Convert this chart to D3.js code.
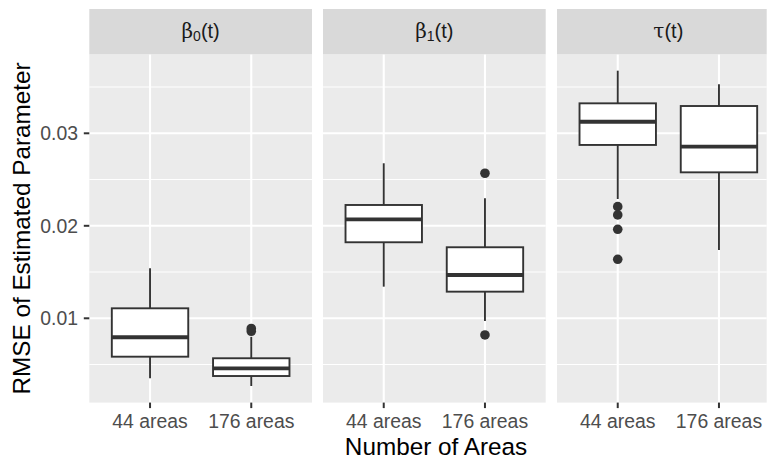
<!DOCTYPE html>
<html>
<head>
<meta charset="utf-8">
<script src="https://cdn.jsdelivr.net/npm/d3@7"></script>
<style>
  html, body { margin: 0; padding: 0; background: #ffffff; }
  svg { display: block; }
  text { font-family: "Liberation Sans", Arial, sans-serif; }
</style>
</head>
<body>
<svg id="chart" width="771" height="462"></svg>
<script>
// ---------- data ----------
const panelBase = ["β", "β", "τ"];
const panelSub = ["0", "1", ""];
const groups = ["44 areas", "176 areas"];

// per panel: [44 areas, 176 areas]
const lowerWhisker = [[0.00351, 0.00268], [0.01342, 0.0097], [0.0229, 0.01738]];
const q1 = [[0.00585, 0.00376], [0.01822, 0.01288], [0.02874, 0.02578]];
const median = [[0.00795, 0.00459], [0.0207, 0.01468], [0.03125, 0.02855]];
const q3 = [[0.01108, 0.00568], [0.02225, 0.01768], [0.03324, 0.03295]];
const upperWhisker = [[0.01541, 0.0080], [0.02676, 0.02297], [0.03677, 0.0353]];
const outliers = [
  [[], [0.0089, 0.0086]],
  [[], [0.02568, 0.0082]],
  [[0.02207, 0.02117, 0.01962, 0.01638], []]
];

const yTicks = [0.01, 0.02, 0.03];
const yMinor = [0.005, 0.015, 0.025, 0.035];
const yTickLabels = ["0.01", "0.02", "0.03"];

// ---------- layout ----------
const svg = d3.select("#chart");
const panelTop = 54.3, panelBottom = 402.6;
const stripTop = 9;
const panelLefts = [89.3, 323, 557];
const panelW = 222.7;
const clipRight = 766.7;

const y = d3.scaleLinear()
  .domain([0.01 - (panelBottom - 318.3) / 9250, 0.01 + (318.3 - panelTop) / 9250])
  .range([panelBottom, panelTop]);

const dark = "#333333";

panelLefts.forEach((left, p) => {
  const right = Math.min(left + panelW, clipRight);
  const x = d3.scalePoint().domain(groups).range([left, left + panelW]).padding(0.6);
  const step = x.step();
  const g = svg.append("g");

  // panel background
  g.append("rect").attr("x", left).attr("y", panelTop)
    .attr("width", right - left).attr("height", panelBottom - panelTop)
    .attr("fill", "#EBEBEB");

  // minor gridlines
  g.selectAll(".minor").data(yMinor.filter(v => y(v) > panelTop && y(v) < panelBottom)).enter()
    .append("line")
    .attr("x1", left).attr("x2", right)
    .attr("y1", d => y(d)).attr("y2", d => y(d))
    .attr("stroke", "#ffffff").attr("stroke-width", 1.1);

  // major gridlines
  g.selectAll(".major").data(yTicks).enter()
    .append("line")
    .attr("x1", left).attr("x2", right)
    .attr("y1", d => y(d)).attr("y2", d => y(d))
    .attr("stroke", "#ffffff").attr("stroke-width", 2.1);
  g.selectAll(".vmajor").data(groups).enter()
    .append("line")
    .attr("x1", d => x(d)).attr("x2", d => x(d))
    .attr("y1", panelTop).attr("y2", panelBottom)
    .attr("stroke", "#ffffff").attr("stroke-width", 2.1);

  // strip
  g.append("rect").attr("x", left).attr("y", stripTop)
    .attr("width", right - left).attr("height", panelTop - stripTop)
    .attr("fill", "#D9D9D9");
  const st = g.append("text")
    .attr("x", left + panelW / 2).attr("y", 38)
    .attr("text-anchor", "middle")
    .attr("font-size", 20).attr("fill", "#1A1A1A")
    .style("font-family", "'DejaVu Serif', 'Liberation Serif', serif");
  st.append("tspan").text(panelBase[p]);
  if (panelSub[p]) {
    st.append("tspan").text(panelSub[p]).attr("font-size", 14).attr("dy", 3)
      .style("font-family", "'Liberation Sans', Arial, sans-serif");
    st.append("tspan").text("(t)").attr("dy", -3)
      .style("font-family", "'Liberation Sans', Arial, sans-serif");
  } else {
    st.append("tspan").text("(t)")
      .style("font-family", "'Liberation Sans', Arial, sans-serif");
  }

  // boxplots
  groups.forEach((grp, i) => {
    const cx = x(grp);
    const bw = step * 0.755;
    // whiskers
    g.append("line").attr("x1", cx).attr("x2", cx)
      .attr("y1", y(q3[p][i])).attr("y2", y(upperWhisker[p][i]))
      .attr("stroke", dark).attr("stroke-width", 1.9);
    g.append("line").attr("x1", cx).attr("x2", cx)
      .attr("y1", y(q1[p][i])).attr("y2", y(lowerWhisker[p][i]))
      .attr("stroke", dark).attr("stroke-width", 1.9);
    // box
    g.append("rect").attr("x", cx - bw / 2).attr("y", y(q3[p][i]))
      .attr("width", bw).attr("height", y(q1[p][i]) - y(q3[p][i]))
      .attr("fill", "#ffffff").attr("stroke", dark).attr("stroke-width", 1.9);
    // median
    g.append("line").attr("x1", cx - bw / 2).attr("x2", cx + bw / 2)
      .attr("y1", y(median[p][i])).attr("y2", y(median[p][i]))
      .attr("stroke", dark).attr("stroke-width", 3.8);
    // outliers
    g.selectAll(null).data(outliers[p][i]).enter()
      .append("circle")
      .attr("cx", cx).attr("cy", d => y(d)).attr("r", 4.8)
      .attr("fill", dark);
  });

  // x axis ticks + labels
  g.selectAll(".xt").data(groups).enter()
    .append("line")
    .attr("x1", d => x(d)).attr("x2", d => x(d))
    .attr("y1", panelBottom).attr("y2", panelBottom + 5.5)
    .attr("stroke", dark).attr("stroke-width", 2);
  g.selectAll(".xl").data(groups).enter()
    .append("text")
    .attr("x", d => x(d)).attr("y", 428.3)
    .attr("text-anchor", "middle")
    .attr("font-size", 19.4).attr("fill", "#4D4D4D")
    .text(d => d);
});

// y axis
const yAxisG = svg.append("g");
yAxisG.selectAll("line").data(yTicks).enter()
  .append("line")
  .attr("x1", panelLefts[0] - 5.5).attr("x2", panelLefts[0])
  .attr("y1", d => y(d)).attr("y2", d => y(d))
  .attr("stroke", dark).attr("stroke-width", 2);
yAxisG.selectAll("text").data(yTicks).enter()
  .append("text")
  .attr("x", 78).attr("y", d => y(d))
  .attr("dy", "0.36em")
  .attr("text-anchor", "end")
  .attr("font-size", 19.4).attr("fill", "#4D4D4D")
  .text((d, i) => yTickLabels[i]);

// axis titles
svg.append("text")
  .attr("x", 436).attr("y", 454.5)
  .attr("text-anchor", "middle")
  .attr("font-size", 24.3).attr("fill", "#000000")
  .text("Number of Areas");
svg.append("text")
  .attr("transform", `translate(30,${(panelTop + panelBottom) / 2}) rotate(-90)`)
  .attr("text-anchor", "middle")
  .attr("font-size", 24.3).attr("fill", "#000000")
  .text("RMSE of Estimated Parameter");
</script>
</body>
</html>
